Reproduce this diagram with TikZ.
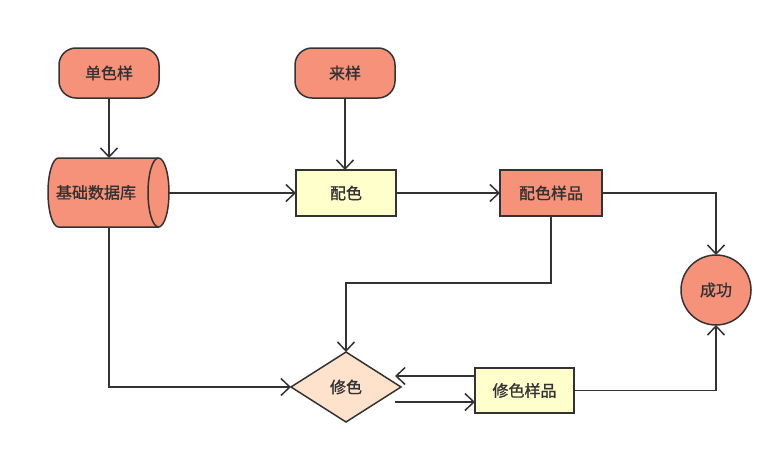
\documentclass[tikz,border=0pt]{standalone}
\usepackage{fontspec}
\newfontfamily\cjk[FakeBold=1.2]{Noto Sans CJK SC}
\usetikzlibrary{shapes.geometric,arrows.meta}
\definecolor{salmon}{RGB}{247,146,122}
\definecolor{lyellow}{RGB}{255,255,204}
\definecolor{peach}{RGB}{255,226,204}
\definecolor{ink}{RGB}{51,51,51}
\begin{document}
\begin{tikzpicture}[x=1pt,y=-1pt,
  base/.style={draw=ink,line width=1.5pt,text=ink,font=\cjk\fontsize{16}{16}\selectfont,inner sep=0pt,outer sep=0pt},
  pill/.style={base,fill=salmon,rounded corners=17pt,minimum width=100pt,minimum height=50pt},
  boxy/.style={base,fill=lyellow,minimum width=100pt,minimum height=46pt},
  boxs/.style={base,fill=salmon,minimum width=102pt,minimum height=46pt},
  cyl/.style={base,draw=none,minimum width=121pt,minimum height=69pt},
  arr/.style={draw=ink,line width=1.5pt,-{Straight Barb[length=9pt,width=17pt,line width=1.5pt]}}
]
\useasboundingbox (0,0) rectangle (783,455);
\node[pill] (dan) at (109,73) {单色样};
\node[pill] (lai) at (345,73) {来样};
% cylinder body
\draw[draw=ink,line width=1.5pt,fill=salmon]
  (58.5,158) -- (158.5,158) arc[start angle=90,end angle=-90,x radius=10.5pt,y radius=34.5pt]
  -- (58.5,227) arc[start angle=270,end angle=90,x radius=10.5pt,y radius=34.5pt] -- cycle;
\draw[draw=ink,line width=1.5pt] (158.5,158) arc[start angle=90,end angle=270,x radius=10.5pt,y radius=34.5pt];
\node[cyl] (db) at (108.5,192.5) {\hspace*{-25pt}基础数据库};
\node[boxy] (pei) at (346,193) {配色};
\node[boxs] (peiy) at (551,193) {配色样品};
\node[base,circle,fill=salmon,minimum size=70pt] (ok) at (716,290) {成功};
\node[base,diamond,fill=peach,minimum width=110pt,minimum height=70pt,aspect=1.57] (xiu) at (346,387) {修色};
\node[boxy,minimum width=99pt,minimum height=45pt] (xiuy) at (524.5,390.5) {修色样品};
\coordinate (a1) at (395,376);
\coordinate (a2) at (395,402);
\draw[arr] (dan) -- (dan |- db.north);
\draw[arr] (lai) -- (lai |- pei.north);
\draw[arr] (db.east |- pei) -- (pei.west);
\draw[arr] (pei) -- (peiy);
\draw[arr] (peiy.east) -| (ok.north);
\draw[arr] (peiy.south) |- (346,283) -- (xiu.north);
\draw[arr] (db.south -| dan) |- (xiu.west);
\draw[arr] (xiuy.west |- a1) -- (a1);
\draw[arr] (a2) -- (xiuy.west |- a2);
\draw[arr] (xiuy.east) -| (ok.south);
\end{tikzpicture}
\end{document}
